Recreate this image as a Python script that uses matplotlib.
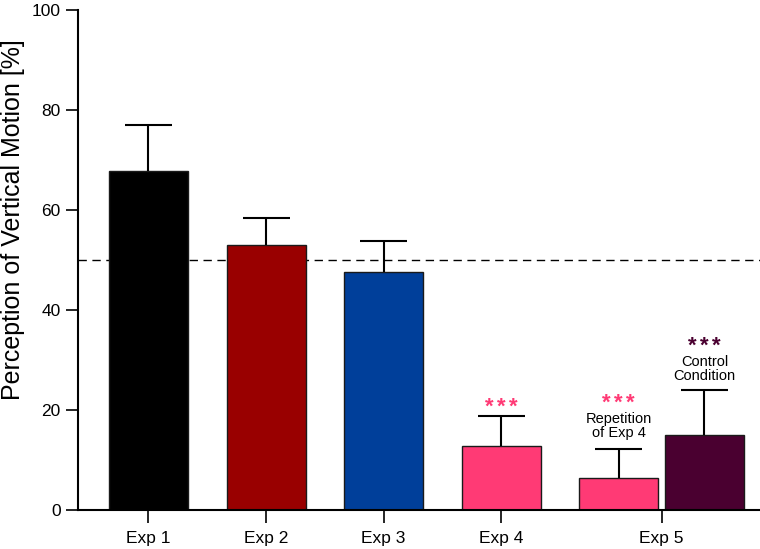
import numpy as np
import matplotlib.pyplot as plt

plt.rcParams['font.family'] = ['Liberation Sans', 'DejaVu Sans']
plt.rcParams['mathtext.fontset'] = 'custom'
plt.rcParams['mathtext.rm'] = 'Liberation Sans:bold'
plt.rcParams['mathtext.bf'] = 'Liberation Sans:bold'

# data
groups = ['Exp 1', 'Exp 2', 'Exp 3', 'Exp 4', 'Exp 5']
bar_pos = [0, 1, 2, 3, 4.0, 4.73]
means = [67.8, 53.0, 47.5, 12.8, 6.4, 15.0]
sems = [9.1, 5.3, 6.2, 6.0, 5.9, 8.9]
colors = ['#000000', '#990000', '#003f9a', '#ff3a75', '#ff3a75', '#4a0030']
group_ticks = [0, 1, 2, 3, 4.365]
chance = 50

fig = plt.figure(figsize=(7.6, 5.49), dpi=100)
ax = fig.add_axes([0.1026, 0.071, 0.897, 0.911])

ax.bar(bar_pos, means, width=0.672, color=colors, edgecolor='#1a1a1a', linewidth=1.0, zorder=2)

# upper error bars only
tops = np.array(means) + np.array(sems)
ax.vlines(bar_pos, means, tops, color='black', linewidth=1.5, zorder=3)
ax.hlines(tops, np.array(bar_pos) - 0.2, np.array(bar_pos) + 0.2, color='black',
          linewidth=1.5, zorder=3)

ax.axhline(chance, color='black', linestyle=(0, (6, 4)), linewidth=1.0, zorder=1)

# significance marks / labels
stars = r'$\mathrm{*}\,\mathrm{*}\,\mathrm{*}$'
star_kw = dict(ha='center', va='center', fontsize=16)
ax.text(bar_pos[3], tops[3] + 2.0, stars, color='#ff3a75', **star_kw)
ax.text(bar_pos[4], tops[4] + 9.2, stars, color='#ff3a75', **star_kw)
ax.text(bar_pos[4], tops[4] + 4.5, 'Repetition\nof Exp 4', ha='center', va='center',
        fontsize=10.5, linespacing=1.0)
ax.text(bar_pos[5], tops[5] + 9.0, stars, color='#4a0030', **star_kw)
ax.text(bar_pos[5], tops[5] + 4.2, 'Control\nCondition', ha='center', va='center',
        fontsize=10.5, linespacing=1.0)

ax.set_xlim(-0.6, 5.2)
ax.set_ylim(0, 100)
ax.set_yticks(range(0, 101, 20))
ax.set_xticks(group_ticks)
ax.set_xticklabels(groups)
ax.tick_params(axis='both', direction='out', length=9, width=1.2, labelsize=12.5)
ax.tick_params(axis='x', labelsize=12.5, pad=6)
ax.set_ylabel('Perception of Vertical Motion [%]', fontsize=18)
ax.yaxis.set_label_coords(-0.078, 0.58)

for s in ['top', 'right']:
    ax.spines[s].set_visible(False)
for s in ['left', 'bottom']:
    ax.spines[s].set_linewidth(1.5)

fig.savefig('out.png', dpi=100)
